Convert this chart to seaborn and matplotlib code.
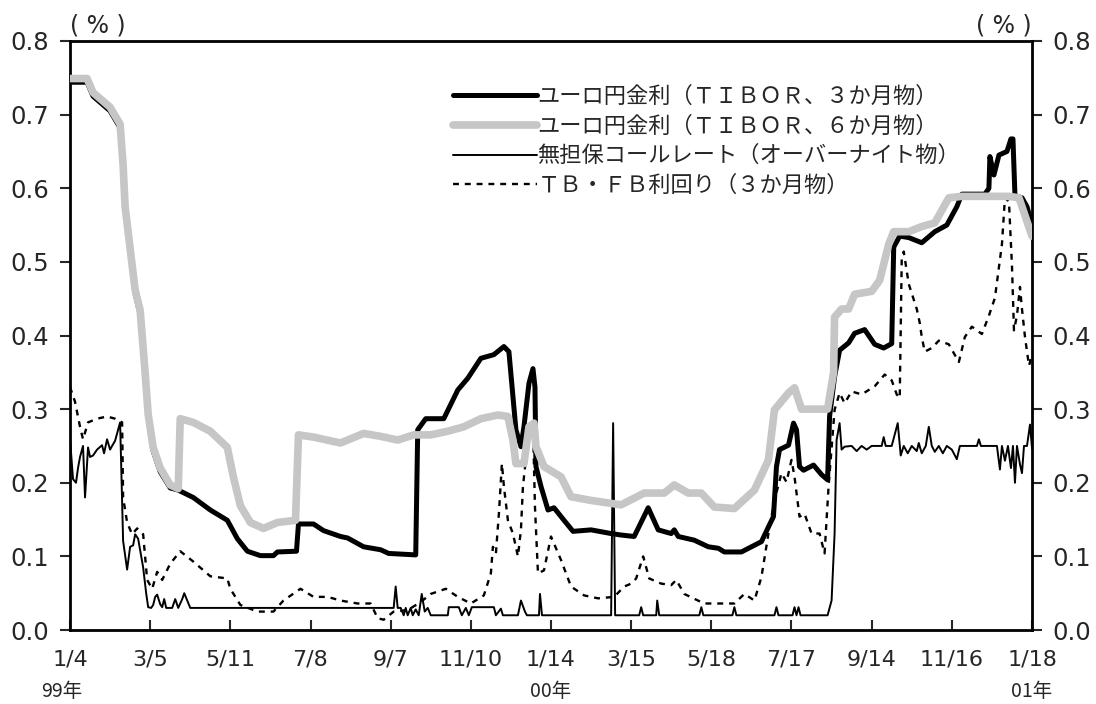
import matplotlib
matplotlib.use("Agg")
import matplotlib.pyplot as plt
import pandas as pd
import seaborn as sns

# =================== データ（営業日インデックス, %） ===================
# 横軸は営業日の通し番号（40営業日ごとに目盛）
tick_pos = [0, 40, 80, 120, 160, 200, 240, 280, 320, 360, 400, 440, 480]
tick_labels = ["1/4", "3/5", "5/11", "7/8", "9/7", "11/10", "1/14",
               "3/15", "5/18", "7/17", "9/14", "11/16", "1/18"]
year_pos = [-4, 240, 480]
year_labels = ["99年", "00年", "01年"]

series_names = [
    "ユーロ円金利（ＴＩＢＯＲ、３か月物）",
    "ユーロ円金利（ＴＩＢＯＲ、６か月物）",
    "無担保コールレート（オーバーナイト物）",
    "ＴＢ・ＦＢ利回り（３か月物）",
]

tibor3_x = [0, 8.5, 11.5, 20, 25, 26.5, 27.5, 30, 32.5, 35, 37.5, 39, 41.5, 45, 50, 54,
            61.5, 70, 78.5, 83.5, 88.5, 95, 101.5, 103.5, 113, 114, 121.5, 126.5, 135,
            138.5, 146.5, 155, 159, 172.5, 173.5, 177.5, 186.5, 193.5, 198.5, 205, 211.5,
            216.5, 219, 222.5, 225, 226.5, 229, 231, 232, 232.5, 235, 238.5, 241.5, 246.5,
            251, 260, 270, 275, 281.5, 288.5, 293.5, 300, 301.5, 303.5, 311.5, 318.5, 323.5,
            326.5, 335, 340, 345, 348.5, 351, 352.5, 354, 358.5, 361, 362.5, 364, 366, 371,
            375, 378, 379, 381.5, 384, 388.5, 391.5, 396.5, 401.5, 406, 410, 411, 414, 418.5,
            425, 431.5, 437.5, 442.5, 445, 456.5, 458.5, 459, 461, 463.5, 467.5, 469.5,
            470.5, 471.5, 475, 477.5, 480]
tibor3_y = [0.744, 0.744, 0.725, 0.705, 0.682, 0.626, 0.570, 0.513, 0.457, 0.429, 0.344,
            0.288, 0.243, 0.215, 0.193, 0.190, 0.180, 0.163, 0.149, 0.124, 0.107, 0.101,
            0.101, 0.106, 0.107, 0.144, 0.144, 0.135, 0.127, 0.125, 0.113, 0.109, 0.104,
            0.102, 0.272, 0.287, 0.287, 0.326, 0.342, 0.369, 0.374, 0.385, 0.378, 0.272,
            0.249, 0.276, 0.335, 0.355, 0.330, 0.222, 0.195, 0.163, 0.166, 0.149, 0.134,
            0.136, 0.131, 0.129, 0.127, 0.166, 0.136, 0.131, 0.136, 0.127, 0.122, 0.113,
            0.111, 0.106, 0.106, 0.113, 0.120, 0.140, 0.154, 0.222, 0.245, 0.251, 0.281,
            0.272, 0.222, 0.217, 0.224, 0.211, 0.204, 0.290, 0.344, 0.380, 0.390, 0.403,
            0.408, 0.388, 0.383, 0.389, 0.520, 0.535, 0.533, 0.526, 0.541, 0.550, 0.575,
            0.592, 0.592, 0.600, 0.643, 0.618, 0.645, 0.650, 0.667, 0.667, 0.590, 0.587,
            0.575, 0.550]

tibor6_x = [0, 8.5, 11.5, 20, 25, 26.5, 27.5, 30, 32.5, 35, 37.5, 39, 41.5, 45, 50, 54, 55,
            61.5, 70, 78.5, 81.5, 85, 90, 96.5, 103.5, 112.5, 114, 121.5, 135, 138.5, 146.5,
            155, 163.5, 171.5, 180, 188.5, 196.5, 205, 213.5, 218.5, 221, 222.5, 226.5, 229,
            231.5, 232.5, 236.5, 245, 250, 260, 270, 275, 286.5, 296.5, 301.5, 308.5, 315,
            321.5, 331.5, 341.5, 348.5, 351.5, 358.5, 361.5, 365, 378, 381, 381.5, 385,
            388.5, 391.5, 400, 404, 408.5, 411, 418.5, 425, 431.5, 438.5, 445, 468.5,
            473.5, 476.5, 480]
tibor6_y = [0.749, 0.749, 0.730, 0.710, 0.687, 0.631, 0.575, 0.518, 0.462, 0.434, 0.349,
            0.293, 0.248, 0.220, 0.197, 0.192, 0.287, 0.282, 0.270, 0.248, 0.208, 0.169,
            0.146, 0.138, 0.146, 0.149, 0.265, 0.262, 0.254, 0.258, 0.267, 0.263, 0.258,
            0.265, 0.265, 0.270, 0.276, 0.287, 0.292, 0.290, 0.258, 0.226, 0.226, 0.276,
            0.281, 0.249, 0.222, 0.208, 0.181, 0.176, 0.172, 0.170, 0.186, 0.186, 0.197,
            0.186, 0.186, 0.167, 0.165, 0.190, 0.231, 0.299, 0.322, 0.329, 0.300, 0.300,
            0.350, 0.425, 0.436, 0.436, 0.456, 0.460, 0.475, 0.524, 0.541, 0.541, 0.548,
            0.553, 0.587, 0.589, 0.589, 0.587, 0.563, 0.535]

call_x = [0, 1.5, 3, 4, 5, 6.5, 7.5, 9, 10, 11.5, 13.5, 16, 17, 18.5, 20, 21, 22.5, 25,
          26.5, 28.5, 30, 31.5, 32.5, 34, 36.5, 38, 39, 40.5, 41.5, 42.5, 43.5, 45, 46, 47,
          48, 51, 52.5, 54, 56, 57, 58.5, 60, 161.5, 162.5, 163.5, 165, 166.5, 167.5, 168.5,
          170, 171, 172.5, 174, 175.5, 177, 178.5, 180, 188.5, 189, 194, 195.5, 197.5, 199,
          200.5, 211.5, 212.5, 215, 216, 223.5, 225, 227, 228, 234, 234.5, 235.5, 270, 271,
          272, 284, 285, 286, 292.5, 293, 294, 314, 315, 316, 330.5, 331.5, 332.5, 351.5,
          352.5, 353.5, 360.5, 361.5, 362.5, 363.5, 364.5, 378, 380, 381.5, 382.5, 384, 385,
          386.5, 390, 392.5, 395, 397.5, 400, 405, 406, 407, 410, 413, 414.5, 416, 418, 420,
          422.5, 423.5, 425, 427, 428.5, 430, 431.5, 433.5, 435.5, 437.5, 440, 442.5, 444,
          452.5, 453.5, 454.5, 462.5, 464, 465, 466.5, 468, 469.5, 470.5, 471.5, 472.5, 474,
          475, 476, 477.5, 479, 480]
call_y = [0.260, 0.205, 0.200, 0.220, 0.235, 0.250, 0.180, 0.248, 0.235, 0.237, 0.245,
          0.251, 0.240, 0.259, 0.245, 0.250, 0.257, 0.282, 0.121, 0.082, 0.113, 0.115, 0.130,
          0.124, 0.085, 0.050, 0.031, 0.030, 0.034, 0.045, 0.048, 0.035, 0.031, 0.042, 0.030,
          0.030, 0.042, 0.030, 0.042, 0.050, 0.040, 0.030, 0.030, 0.059, 0.030, 0.030, 0.020,
          0.030, 0.020, 0.030, 0.020, 0.028, 0.020, 0.049, 0.025, 0.030, 0.020, 0.020, 0.031,
          0.031, 0.020, 0.030, 0.020, 0.031, 0.031, 0.020, 0.029, 0.020, 0.020, 0.040, 0.025,
          0.020, 0.020, 0.049, 0.020, 0.020, 0.281, 0.020, 0.020, 0.031, 0.020, 0.020, 0.040,
          0.020, 0.020, 0.031, 0.020, 0.020, 0.031, 0.020, 0.020, 0.031, 0.020, 0.020, 0.031,
          0.020, 0.031, 0.020, 0.020, 0.040, 0.131, 0.258, 0.281, 0.245, 0.249, 0.250, 0.243,
          0.250, 0.245, 0.250, 0.250, 0.262, 0.250, 0.250, 0.281, 0.237, 0.250, 0.240, 0.250,
          0.243, 0.254, 0.240, 0.250, 0.276, 0.250, 0.242, 0.250, 0.240, 0.250, 0.245, 0.232,
          0.250, 0.250, 0.259, 0.250, 0.250, 0.218, 0.250, 0.230, 0.250, 0.220, 0.250, 0.200,
          0.250, 0.225, 0.213, 0.250, 0.250, 0.279, 0.247]

tb_x = [0, 2.5, 5, 6.5, 9, 13.5, 18.5, 22.5, 26, 26.5, 28.5, 31, 33.5, 36.5, 38.5, 41, 43.5,
        46, 50, 55, 61.5, 70, 78.5, 80, 85, 93.5, 101.5, 106.5, 115, 121.5, 128.5, 135,
        143.5, 150, 153.5, 156.5, 161.5, 168.5, 175, 180, 187.5, 193.5, 200, 206.5, 210, 211,
        212.5, 214, 215.5, 216.5, 218.5, 221, 223.5, 225, 226, 228.5, 231, 232, 233.5, 236.5,
        240, 245, 250, 256.5, 263.5, 271.5, 276.5, 280, 282.5, 286, 289, 295, 300, 302.5,
        306.5, 311, 316.5, 325, 331.5, 336.5, 341.5, 345, 348.5, 351.5, 355, 357.5, 360,
        361.5, 364, 366.5, 370, 374, 376.5, 378.5, 381.5, 384, 386.5, 390, 395, 401.5, 406.5,
        410, 412.5, 414, 415, 416, 418.5, 422.5, 424, 425, 426.5, 430, 433.5, 438.5, 443.5,
        446.5, 450, 455, 458.5, 461.5, 465, 466.5, 468.5, 470, 471, 472.5, 474, 475, 476.5,
        478.5, 480]
tb_y = [0.330, 0.310, 0.276, 0.259, 0.282, 0.287, 0.290, 0.287, 0.282, 0.180, 0.146, 0.130,
        0.138, 0.130, 0.068, 0.056, 0.079, 0.068, 0.090, 0.107, 0.093, 0.073, 0.070, 0.056,
        0.034, 0.025, 0.025, 0.040, 0.056, 0.045, 0.045, 0.040, 0.036, 0.036, 0.016, 0.014,
        0.025, 0.027, 0.038, 0.049, 0.056, 0.045, 0.036, 0.047, 0.077, 0.113, 0.104, 0.158,
        0.226, 0.195, 0.149, 0.131, 0.100, 0.136, 0.195, 0.258, 0.281, 0.167, 0.077, 0.081,
        0.127, 0.095, 0.059, 0.047, 0.043, 0.045, 0.059, 0.063, 0.070, 0.100, 0.070, 0.063,
        0.061, 0.068, 0.049, 0.043, 0.036, 0.036, 0.036, 0.049, 0.040, 0.072, 0.131, 0.176,
        0.213, 0.201, 0.231, 0.208, 0.154, 0.158, 0.131, 0.131, 0.104, 0.195, 0.299, 0.322,
        0.308, 0.324, 0.320, 0.331, 0.347, 0.339, 0.320, 0.315, 0.504, 0.514, 0.470, 0.436,
        0.417, 0.398, 0.378, 0.383, 0.393, 0.388, 0.364, 0.398, 0.412, 0.402, 0.427, 0.451,
        0.524, 0.587, 0.582, 0.495, 0.407, 0.427, 0.466, 0.436, 0.398, 0.359, 0.373]

y_ticks = [0.0, 0.1, 0.2, 0.3, 0.4, 0.5, 0.6, 0.7, 0.8]

# =================== スタイル ===================
sns.set_style("ticks")
plt.rcParams["font.family"] = ["DejaVu Sans", "Noto Sans CJK JP"]
jp_font = ["Noto Sans CJK JP", "DejaVu Sans"]

fig = plt.figure(figsize=(10.96, 7.04), dpi=100)
ax = fig.add_axes([70 / 1096, 74 / 704, 962 / 1096, 589 / 704])

styles = [
    dict(color="black", lw=3.6, zorder=3),
    dict(color="#c6c6c6", lw=5.5, zorder=4),
    dict(color="black", lw=1.4, zorder=2),
    dict(color="black", lw=1.7, zorder=2, linestyle=(0, (2.5, 2.5))),
]
xs = [tibor3_x, tibor6_x, call_x, tb_x]
ys = [tibor3_y, tibor6_y, call_y, tb_y]

for name, x, y, st in zip(series_names, xs, ys, styles):
    df = pd.DataFrame({"obs": x, "rate": y})
    sns.lineplot(data=df, x="obs", y="rate", sort=False, estimator=None,
                 ax=ax, label=name, **st)

ax.set_xlim(0, 480)
ax.set_ylim(0, 0.8)
ax.set_xlabel("")
ax.set_ylabel("")

ax.set_xticks(tick_pos)
ax.set_xticklabels(tick_labels, fontsize=16)
ax.set_yticks(y_ticks)
ax.set_yticklabels([f"{v:.1f}" for v in y_ticks], fontsize=17.5)
ax.tick_params(axis="x", direction="in", length=7, width=1.5, pad=14)
ax.tick_params(axis="y", direction="out", length=7, width=1.5, pad=8,
               left=True, right=True, labelleft=True, labelright=True)
for sp in ax.spines.values():
    sp.set_visible(True)
    sp.set_color("black")
    sp.set_linewidth(2)

# 単位
ax.text(0, 1.006, "( % )", transform=ax.transAxes, ha="left", va="bottom",
        fontsize=17)
ax.text(1, 1.006, "( % )", transform=ax.transAxes, ha="right", va="bottom",
        fontsize=17)

# 年ラベル
for xp, lab in zip(year_pos, year_labels):
    ax.text(xp, -0.105, lab, transform=ax.get_xaxis_transform(),
            ha="center", va="center", fontsize=14, family=jp_font)

leg = ax.legend(loc="upper left", bbox_to_anchor=(453 / 1096, 1 - 85 / 704),
                bbox_transform=fig.transFigure, frameon=False, borderpad=0,
                borderaxespad=0, handlelength=3.8, handletextpad=0.0,
                labelspacing=0.3, prop={"family": jp_font, "size": 16})

fig.savefig("out.png", dpi=100)
